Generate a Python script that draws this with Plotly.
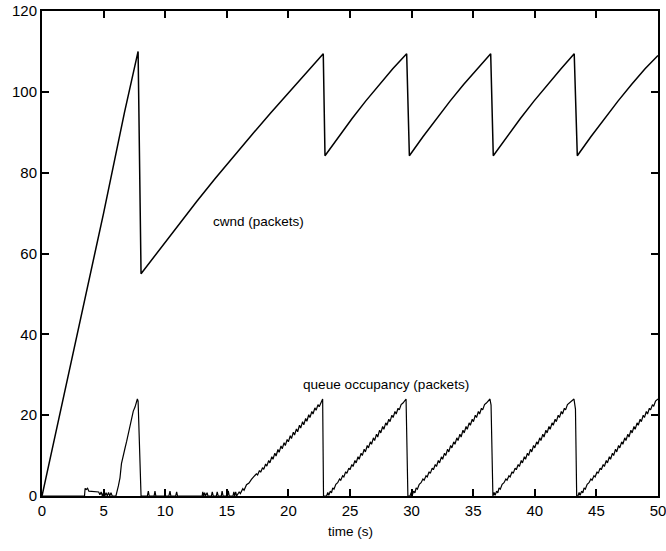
import plotly.graph_objects as go

# cwnd (packets) over time (s)
cwnd_t = [0, 2, 3.5, 5, 6.7, 7.8,
          8.04, 9.54, 11.04, 12.54, 14.04, 15.54, 17.04, 18.54, 20.04, 21.54, 22.83,
          22.97, 24.07, 25.17, 26.27, 27.37, 28.47, 29.6,
          29.82, 30.92, 32.02, 33.12, 34.22, 35.32, 36.42,
          36.63, 37.73, 38.83, 39.93, 41.03, 42.13, 43.2,
          43.45, 44.55, 45.65, 46.75, 47.85, 48.95, 50.0]
cwnd_v = [0, 28, 49, 70, 95, 110,
          55, 61.0, 66.9, 72.8, 78.5, 84.0, 89.4, 94.7, 99.8, 104.8, 109.4,
          84.2, 88.9, 93.4, 97.7, 101.8, 105.7, 109.4,
          84.2, 88.9, 93.4, 97.7, 101.8, 105.7, 109.4,
          84.2, 88.9, 93.4, 97.7, 101.8, 105.7, 109.4,
          84.2, 88.9, 93.4, 97.7, 101.8, 105.7, 109.0]

# queue occupancy (packets) over time (s)
queue_t = [0, 3.45, 3.5, 3.6, 3.7, 3.8, 4.6, 4.7, 4.8, 4.9, 5.0, 5.1, 5.2, 5.3, 5.4, 5.5, 5.6, 5.7, 5.9,
           6.0, 6.2, 6.33, 6.45, 6.6, 6.75, 6.87, 7.0, 7.14, 7.3, 7.41, 7.55, 7.74, 7.8, 8.04,
           8.55, 8.63, 8.7, 9.1, 9.17, 9.24, 10.3, 10.39, 10.46, 10.85, 10.93, 11.0,
           13.0, 13.05, 13.12, 13.2, 13.27, 13.4, 13.47, 13.75, 13.82, 13.9, 14.15, 14.22, 14.3,
           14.55, 14.62, 14.7, 15.05, 15.12, 15.2, 15.5, 15.57, 15.64, 15.72, 15.8,
           16.0, 16.1, 16.3, 16.4, 16.6, 16.8, 17.0, 17.2, 17.4, 17.5, 17.65, 17.75, 17.9, 18.0,
           18.15, 18.25, 18.4, 18.5, 18.65, 18.75, 18.9, 19.0, 19.15, 19.25, 19.4, 19.5, 19.65, 19.75,
           19.9, 20.0, 20.15, 20.25, 20.4, 20.5, 20.65, 20.75, 20.9, 21.0, 21.15, 21.25, 21.4, 21.5,
           21.65, 21.75, 21.9, 22.0, 22.15, 22.25, 22.4, 22.5, 22.65, 22.78, 22.85,
           23.1, 23.2, 23.28, 23.4, 23.5, 23.6, 23.7, 23.85, 24.0, 24.15, 24.25, 24.4, 24.5, 24.65, 24.75,
           24.9, 25.0, 25.15, 25.25, 25.4, 25.5, 25.65, 25.75, 25.9, 26.0, 26.15, 26.25, 26.4, 26.5,
           26.65, 26.75, 26.9, 27.0, 27.15, 27.25, 27.4, 27.5, 27.65, 27.75, 27.9, 28.0, 28.15, 28.25,
           28.4, 28.5, 28.65, 28.75, 28.9, 29.0, 29.15, 29.3, 29.55, 29.7,
           29.87, 29.97, 30.05, 30.17, 30.27, 30.37, 30.47, 30.62, 30.77, 30.92, 31.02, 31.17, 31.27,
           31.42, 31.52, 31.67, 31.77, 31.92, 32.02, 32.17, 32.27, 32.42, 32.52, 32.67, 32.77, 32.92,
           33.02, 33.17, 33.27, 33.42, 33.52, 33.67, 33.77, 33.92, 34.02, 34.17, 34.27, 34.42, 34.52,
           34.67, 34.77, 34.92, 35.02, 35.17, 35.27, 35.42, 35.52, 35.67, 35.77, 35.92, 36.07, 36.36,
           36.45, 36.55,
           36.6, 36.7, 36.78, 36.9, 37.0, 37.1, 37.2, 37.35, 37.5, 37.65, 37.75, 37.9, 38.0, 38.15,
           38.25, 38.4, 38.5, 38.65, 38.75, 38.9, 39.0, 39.15, 39.25, 39.4, 39.5, 39.65, 39.75, 39.9,
           40.0, 40.15, 40.25, 40.4, 40.5, 40.65, 40.75, 40.9, 41.0, 41.15, 41.25, 41.4, 41.5, 41.65,
           41.75, 41.9, 42.0, 42.15, 42.25, 42.4, 42.5, 42.65, 42.85, 43.18, 43.3, 43.4,
           43.5, 43.6, 43.68, 43.8, 43.9, 44.0, 44.1, 44.25, 44.4, 44.55, 44.65, 44.8, 44.9, 45.05,
           45.15, 45.3, 45.4, 45.55, 45.65, 45.8, 45.9, 46.05, 46.15, 46.3, 46.4, 46.55, 46.65, 46.8,
           46.9, 47.05, 47.15, 47.3, 47.4, 47.55, 47.65, 47.8, 47.9, 48.05, 48.15, 48.3, 48.4, 48.55,
           48.65, 48.8, 48.9, 49.05, 49.15, 49.3, 49.4, 49.55, 49.65, 49.8, 50.0]
queue_v = [0, 0, 1.9, 1.6, 1.9, 1.2, 1.0, 0.3, 1.0, 0, 0.9, 0, 0.8, 0, 0.9, 0, 0.8, 0, 0,
           0, 2.5, 4.5, 8, 10.5, 12, 13.5, 15.5, 17.2, 19.5, 21, 22, 24, 23.5, 0,
           0, 1.2, 0, 0, 1.2, 0, 0, 1.2, 0, 0, 1.0, 0,
           0, 1.0, 0, 0.8, 0, 0.8, 0, 0, 1.0, 0, 0, 1.0, 0,
           0, 1.2, 0, 0, 1.3, 0, 0, 1.0, 0, 1.0, 0,
           1.0, 0.6, 1.8, 1.4, 2.8, 3.2, 4.1, 4.8, 5.5, 5.2, 6.3, 5.9, 7.0, 6.6,
           7.9, 7.4, 8.8, 8.2, 9.7, 9.1, 10.6, 9.9, 11.5, 10.8, 12.4, 11.7, 13.2, 12.5,
           14.0, 13.4, 14.9, 14.2, 15.8, 15.1, 16.6, 15.9, 17.5, 16.8, 18.4, 17.6, 19.2, 18.5,
           20.1, 19.4, 20.9, 20.3, 21.8, 21.2, 22.6, 22.1, 23.4, 24.0, 0,
           0, 0.9, 0.2, 1.2, 0.8, 2.0, 1.7, 2.9, 3.3, 4.2, 3.9, 5.0, 4.7, 6.0, 5.6,
           6.9, 6.5, 7.8, 7.3, 8.8, 8.2, 9.7, 9.1, 10.6, 10.0, 11.6, 10.9, 12.5, 11.9,
           13.4, 12.8, 14.4, 13.7, 15.3, 14.6, 16.3, 15.6, 17.2, 16.5, 18.1, 17.5, 19.0, 18.4,
           20.0, 19.4, 20.9, 20.3, 21.7, 21.3, 22.6, 23.0, 24.0, 0,
           0, 0.9, 0.2, 1.2, 0.8, 2.0, 1.7, 2.9, 3.3, 4.2, 3.9, 5.0, 4.7,
           6.0, 5.6, 6.9, 6.5, 7.8, 7.3, 8.8, 8.2, 9.7, 9.1, 10.6, 10.0, 11.6,
           10.9, 12.5, 11.9, 13.4, 12.8, 14.4, 13.7, 15.3, 14.6, 16.3, 15.6, 17.2, 16.5,
           18.1, 17.5, 19.0, 18.4, 20.0, 19.4, 20.9, 20.3, 21.7, 21.3, 22.6, 23.0, 24.0,
           22.5, 0,
           0, 0.9, 0.2, 1.2, 0.8, 2.0, 1.7, 2.9, 3.3, 4.2, 3.9, 5.0, 4.7, 6.0,
           5.6, 6.9, 6.5, 7.8, 7.3, 8.8, 8.2, 9.7, 9.1, 10.6, 10.0, 11.6, 10.9, 12.5,
           11.9, 13.4, 12.8, 14.4, 13.7, 15.3, 14.6, 16.3, 15.6, 17.2, 16.5, 18.1, 17.5, 19.0,
           18.4, 20.0, 19.4, 20.9, 20.3, 21.7, 21.3, 22.6, 23.2, 24.0, 21.5, 0,
           0, 0.9, 0.2, 1.2, 0.8, 2.0, 1.7, 2.9, 3.3, 4.2, 3.9, 5.0, 4.7, 6.0,
           5.6, 6.9, 6.5, 7.8, 7.3, 8.8, 8.2, 9.7, 9.1, 10.6, 10.0, 11.6, 10.9, 12.5,
           11.9, 13.4, 12.8, 14.4, 13.7, 15.3, 14.6, 16.3, 15.6, 17.2, 16.5, 18.1, 17.5, 19.0,
           18.4, 20.0, 19.4, 20.9, 20.3, 21.7, 21.3, 22.6, 22.2, 23.5, 24.0]

x_ticks = [0, 5, 10, 15, 20, 25, 30, 35, 40, 45, 50]
y_ticks = [0, 20, 40, 60, 80, 100, 120]

FONT = "Liberation Sans, Arial, sans-serif"

fig = go.Figure()
fig.add_trace(go.Scatter(x=cwnd_t, y=cwnd_v, mode="lines",
                         line=dict(color="black", width=1.5), showlegend=False,
                         hoverinfo="skip"))
fig.add_trace(go.Scatter(x=queue_t, y=queue_v, mode="lines",
                         line=dict(color="black", width=1.2), showlegend=False,
                         hoverinfo="skip"))

fig.add_annotation(x=17.6, y=67.8, text="cwnd (packets)", showarrow=False,
                   font=dict(size=13.5, color="black", family=FONT))
fig.add_annotation(x=27.9, y=27.7, text="queue occupancy (packets)", showarrow=False,
                   font=dict(size=13.6, color="black", family=FONT))
fig.add_annotation(x=0.5, y=-0.092, xref="paper", yref="paper", text="time (s)",
                   showarrow=False, font=dict(size=13.5, color="black", family=FONT))

axis_common = dict(showline=True, linecolor="black", linewidth=2, mirror="ticks",
                   ticks="inside", ticklen=7, tickwidth=1.5, tickcolor="black",
                   showgrid=False, zeroline=False, automargin=False,
                   ticklabeloverflow="allow",
                   tickfont=dict(size=15, color="black", family=FONT))

fig.update_xaxes(range=[0, 50], tickvals=x_ticks, **axis_common)
fig.update_yaxes(range=[0, 120], tickvals=y_ticks, **axis_common)

fig.update_layout(width=666, height=551, plot_bgcolor="white", paper_bgcolor="white",
                  margin=dict(l=42, r=8, t=11, b=55), hovermode=False,
                  font=dict(family=FONT, color="black"))

# remove the browser's default 8px body margin so the figure fills the window
fig.write_html("out.html", config={"displayModeBar": False},
               post_script="document.body.style.margin='0';document.body.style.overflow='hidden';")
